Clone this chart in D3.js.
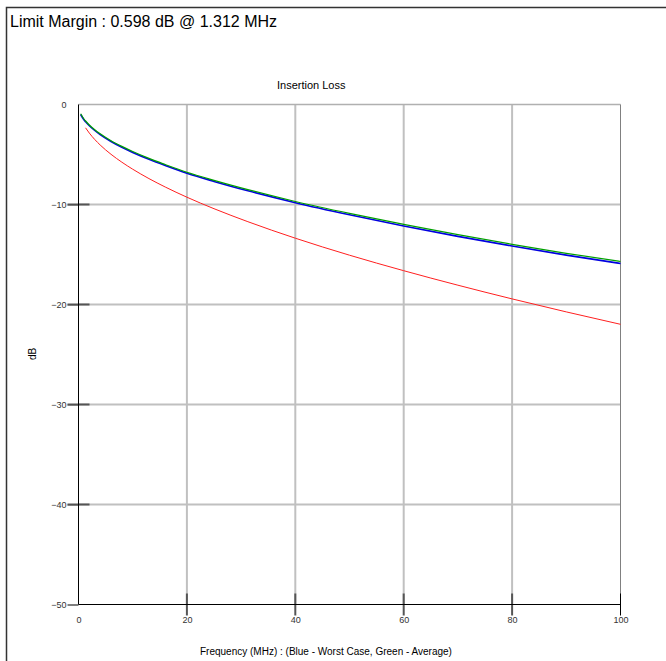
<!DOCTYPE html>
<html><head><meta charset="utf-8">
<script src="https://cdn.jsdelivr.net/npm/d3@7"></script>
<style>html,body{margin:0;padding:0;background:#fff;}svg{display:block;font-family:Arial,"Liberation Sans",sans-serif;}</style>
</head><body>
<script>
const freq = [0.4, 1, 1.312, 2, 3, 4, 6, 8, 10, 13, 16, 20, 25, 31.25, 40, 50, 60, 70, 80, 90, 100];
const worstCase = [-1.00, -1.53, -1.73, -2.13, -2.60, -3.01, -3.70, -4.28, -4.79, -5.48, -6.10, -6.87, -7.69, -8.63, -9.82, -11.03, -12.15, -13.19, -14.15, -15.06, -15.90];
const average = [-0.98, -1.50, -1.70, -2.10, -2.57, -2.98, -3.67, -4.24, -4.75, -5.44, -6.05, -6.82, -7.63, -8.56, -9.75, -10.94, -12.03, -13.07, -14.03, -14.93, -15.75];
const limitFreq = [1.3, 2, 3, 4, 6, 8, 10, 13, 16, 20, 25, 31.25, 40, 50, 60, 70, 80, 90, 100];
const limit = [-2.33, -2.86, -3.50, -4.05, -4.98, -5.77, -6.47, -7.41, -8.25, -9.27, -10.42, -11.72, -13.37, -15.07, -16.62, -18.07, -19.44, -20.74, -21.98];
const xTicks = [0, 20, 40, 60, 80, 100];
const yTicks = [0, -10, -20, -30, -40, -50];
const titleText = "Limit Margin : 0.598 dB @ 1.312 MHz";
const chartTitle = "Insertion Loss";
const xLabel = "Frequency (MHz) : (Blue - Worst Case, Green - Average)";
const yLabel = "dB";

const W = 666, H = 661;
const svg = d3.select("body").append("svg").attr("width", W).attr("height", H);
svg.append("rect").attr("x",6.5).attr("y",7.5).attr("width",W).attr("height",H).attr("fill","#fff").attr("stroke","#333").attr("stroke-width",1.5);

const x = d3.scaleLinear().domain([0,100]).range([78.5, 620.5]);
const y = d3.scaleLinear().domain([-50,0]).range([604.5, 104.5]);

// grid
const g = svg.append("g");
g.selectAll(".vg").data(xTicks.filter(d=>d>0&&d<100)).join("line")
 .attr("x1",d=>x(d)).attr("x2",d=>x(d)).attr("y1",y(0)).attr("y2",y(-50))
 .attr("stroke","#c0c0c0").attr("stroke-width",2);
g.selectAll(".hg").data(yTicks.filter(d=>d<0&&d>-50)).join("line")
 .attr("x1",x(0)).attr("x2",x(100)).attr("y1",d=>y(d)).attr("y2",d=>y(d))
 .attr("stroke","#c0c0c0").attr("stroke-width",2);
// top border and right border
g.append("line").attr("x1",x(0)).attr("x2",x(100)).attr("y1",y(0)).attr("y2",y(0)).attr("stroke","#b0b0b0").attr("stroke-width",1.5);
g.append("line").attr("x1",x(100)).attr("x2",x(100)).attr("y1",y(0)).attr("y2",y(-50)).attr("stroke","#808080").attr("stroke-width",1);

// inner tick segments
g.selectAll(".yt").data(yTicks.filter(d=>d<0&&d>-50)).join("line")
 .attr("x1",x(0)-11).attr("x2",x(0)+11).attr("y1",d=>y(d)).attr("y2",d=>y(d))
 .attr("stroke","#555").attr("stroke-width",2);
g.selectAll(".xt").data(xTicks.filter(d=>d>0)).join("line")
 .attr("x1",d=>x(d)).attr("x2",d=>x(d)).attr("y1",y(-50)-11).attr("y2",y(-50)+11)
 .attr("stroke",d=>d===100?"#000":"#555").attr("stroke-width",d=>d===100?1:2);

// axes
const yAxis = d3.axisLeft(y).tickValues(yTicks).tickSize(11).tickPadding(1).tickFormat(d3.format("d"));
const ya = svg.append("g").attr("transform",`translate(${x(0)},0)`).call(yAxis);
ya.select(".domain").remove();
ya.selectAll(".tick line").attr("stroke",d=>d===-50?"#000":(d===0?"none":"#555"));
ya.selectAll("text").attr("font-size",9).attr("fill","#333").attr("font-family","Arial, 'Liberation Sans'");
const xAxis = d3.axisBottom(x).tickValues(xTicks).tickSize(0).tickPadding(12).tickFormat(d3.format("d"));
const xa = svg.append("g").attr("transform",`translate(0,${y(-50)})`).call(xAxis);
xa.select(".domain").remove();
xa.selectAll("text").attr("font-size",9).attr("fill","#333").attr("font-family","Arial, 'Liberation Sans'");

svg.append("line").attr("x1",x(0)).attr("x2",x(0)).attr("y1",y(0)).attr("y2",y(-50)).attr("stroke","#000").attr("stroke-width",1);
svg.append("line").attr("x1",x(0)).attr("x2",x(100)).attr("y1",y(-50)).attr("y2",y(-50)).attr("stroke","#000").attr("stroke-width",1);

// lines
const line = d3.line().curve(d3.curveMonotoneX);
const ptsL = limitFreq.map((f,i)=>[x(f), y(limit[i])]);
const ptsA = freq.map((f,i)=>[x(f), y(average[i])]);
const ptsW = freq.map((f,i)=>[x(f), y(worstCase[i])]);
svg.append("path").attr("d",line(ptsL)).attr("fill","none").attr("stroke","#ff2020").attr("stroke-width",1);
svg.append("path").attr("d",line(ptsW)).attr("fill","none").attr("stroke","#0000e0").attr("stroke-width",1.6);
svg.append("path").attr("d",line(ptsA)).attr("fill","none").attr("stroke","#00a000").attr("stroke-width",1.2).attr("transform","translate(0,-0.5)");

// texts
svg.append("text").attr("x",10).attr("y",27).attr("font-size",16).attr("fill","#000").text(titleText);
svg.append("text").attr("x",277).attr("y",89).attr("font-size",11).attr("fill","#000").text(chartTitle);
svg.append("text").attr("x",200).attr("y",655).attr("font-size",10).attr("fill","#000").text(xLabel);
svg.append("text").attr("transform","translate(36,354) rotate(-90)").attr("text-anchor","middle").attr("font-size",10).attr("fill","#000").text(yLabel);
</script>
</body></html>
